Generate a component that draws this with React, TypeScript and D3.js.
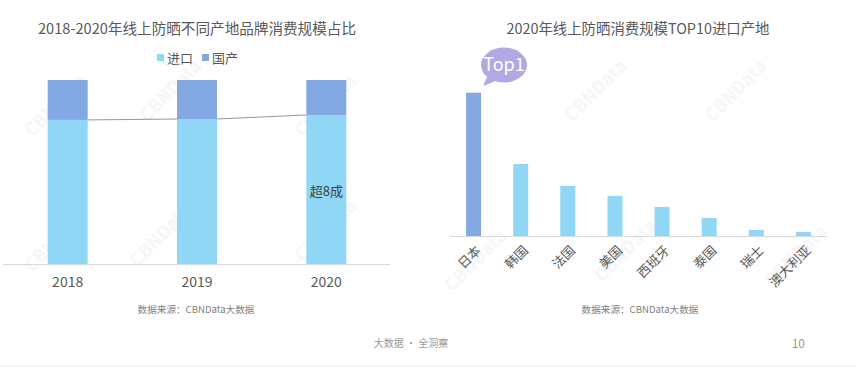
import { useEffect, useRef } from "react";
import * as d3 from "d3";

const years = ["2018", "2019", "2020"];
const importShare = [78.3, 78.8, 81];
const domesticShare = [21.7, 21.2, 19];
const legendLabels = ["进口", "国产"];

const origins = ["日本", "韩国", "法国", "美国", "西班牙", "泰国", "瑞士", "澳大利亚"];
const originValues = [100, 50.2, 35, 28, 20.3, 12.6, 4.2, 2.8];

const COLOR_IMPORT = "#8fd7f4";
const COLOR_DOMESTIC = "#84a9e2";
const TEXT = "#595959";
const FONT = "'Noto Sans CJK SC', 'Noto Sans', sans-serif";

const watermarks = [
  [60, 110], [175, 95], [330, 110], [60, 245], [165, 240], [330, 235],
  [480, 265], [600, 95], [740, 95], [630, 255], [800, 260],
];

export default function App() {
  const ref = useRef<SVGSVGElement>(null);

  useEffect(() => {
    const svg = d3.select(ref.current);
    svg.selectAll("*").remove();

    // faint watermark
    svg
      .append("g")
      .selectAll("text")
      .data(watermarks)
      .join("text")
      .attr("transform", (d) => `translate(${d[0]},${d[1]}) rotate(-45)`)
      .attr("text-anchor", "middle")
      .attr("font-family", FONT)
      .attr("font-size", 18)
      .attr("font-weight", "bold")
      .attr("fill", "#f6f6f8")
      .text("CBNData");

    // ---- left chart ----
    const left = svg.append("g");
    left
      .append("text")
      .attr("x", 197)
      .attr("y", 34)
      .attr("text-anchor", "middle")
      .attr("font-family", FONT)
      .attr("font-size", 14.6)
      .attr("fill", TEXT)
      .text("2018-2020年线上防晒不同产地品牌消费规模占比");

    const legend = left
      .selectAll("g.legend")
      .data(legendLabels)
      .join("g")
      .attr("transform", (_, i) => `translate(${157 + i * 45},58)`);
    legend
      .append("rect")
      .attr("x", 0)
      .attr("y", -4)
      .attr("width", 7)
      .attr("height", 7)
      .attr("fill", (_, i) => (i === 0 ? COLOR_IMPORT : COLOR_DOMESTIC));
    legend
      .append("text")
      .attr("x", 10)
      .attr("y", 0)
      .attr("dy", "0.35em")
      .attr("font-family", FONT)
      .attr("font-size", 13)
      .attr("fill", TEXT)
      .text((d) => d);

    const xL = d3.scalePoint<string>().domain(years).range([3, 391]).padding(0.5);
    const yL = d3.scaleLinear().domain([0, 100]).range([264, 80]);
    const bw = 40;

    left
      .selectAll("rect.imp")
      .data(years)
      .join("rect")
      .attr("x", (d) => xL(d)! - bw / 2)
      .attr("y", (_, i) => yL(importShare[i]))
      .attr("width", bw)
      .attr("height", (_, i) => yL(0) - yL(importShare[i]))
      .attr("fill", COLOR_IMPORT);
    left
      .selectAll("rect.dom")
      .data(years)
      .join("rect")
      .attr("x", (d) => xL(d)! - bw / 2)
      .attr("y", (_, i) => yL(importShare[i] + domesticShare[i]))
      .attr("width", bw)
      .attr("height", (_, i) => yL(importShare[i]) - yL(importShare[i] + domesticShare[i]))
      .attr("fill", COLOR_DOMESTIC);

    // series lines between bars
    for (let i = 0; i < years.length - 1; i++) {
      left
        .append("line")
        .attr("x1", xL(years[i])! + bw / 2)
        .attr("y1", yL(importShare[i]))
        .attr("x2", xL(years[i + 1])! - bw / 2)
        .attr("y2", yL(importShare[i + 1]))
        .attr("stroke", "#7a7a7a")
        .attr("stroke-width", 0.8);
    }

    left
      .append("line")
      .attr("x1", 3)
      .attr("x2", 390)
      .attr("y1", yL(0) + 0.5)
      .attr("y2", yL(0) + 0.5)
      .attr("stroke", "#d9d9d9");

    left
      .selectAll("text.year")
      .data(years)
      .join("text")
      .attr("x", (d) => xL(d)!)
      .attr("y", 287)
      .attr("text-anchor", "middle")
      .attr("font-family", FONT)
      .attr("font-size", 14)
      .attr("fill", TEXT)
      .text((d) => d);

    left
      .append("text")
      .attr("x", xL("2020")!)
      .attr("y", 191)
      .attr("dy", "0.35em")
      .attr("text-anchor", "middle")
      .attr("font-family", FONT)
      .attr("font-size", 13)
      .attr("fill", "#404040")
      .text("超8成");

    left
      .append("text")
      .attr("x", 196)
      .attr("y", 313)
      .attr("text-anchor", "middle")
      .attr("font-family", FONT)
      .attr("font-size", 9.6)
      .attr("fill", "#7f7f7f")
      .text("数据来源：CBNData大数据");

    // ---- right chart ----
    const right = svg.append("g");
    right
      .append("text")
      .attr("x", 638)
      .attr("y", 34)
      .attr("text-anchor", "middle")
      .attr("font-family", FONT)
      .attr("font-size", 14.4)
      .attr("fill", TEXT)
      .text("2020年线上防晒消费规模TOP10进口产地");

    const xR = d3.scalePoint<string>().domain(origins).range([450, 827]).padding(0.5);
    const yR = d3.scaleLinear().domain([0, 100]).range([236, 92.7]);
    const bw2 = 15;

    right
      .selectAll("rect")
      .data(origins)
      .join("rect")
      .attr("x", (d) => xR(d)! - bw2 / 2)
      .attr("y", (_, i) => yR(originValues[i]))
      .attr("width", bw2)
      .attr("height", (_, i) => yR(0) - yR(originValues[i]))
      .attr("fill", (_, i) => (i === 0 ? COLOR_DOMESTIC : COLOR_IMPORT));

    right
      .append("line")
      .attr("x1", 450)
      .attr("x2", 827)
      .attr("y1", yR(0) + 0.5)
      .attr("y2", yR(0) + 0.5)
      .attr("stroke", "#d9d9d9");

    right
      .selectAll("text.cat")
      .data(origins)
      .join("text")
      .attr("transform", (d) => `translate(${xR(d)! + 5},${yR(0) + 12}) rotate(-45)`)
      .attr("text-anchor", "end")
      .attr("dy", "0.35em")
      .attr("font-family", FONT)
      .attr("font-size", 13)
      .attr("fill", TEXT)
      .text((d) => d);

    // Top1 bubble
    const bx = 504;
    const by = 65;
    const bubble = right.append("g");
    bubble
      .append("path")
      .attr("d", `M${bx - 16},${by + 10} L${bx - 21},${by + 21} L${bx - 6},${by + 15} Z`)
      .attr("fill", "#b3a8e6");
    bubble
      .append("ellipse")
      .attr("cx", bx)
      .attr("cy", by)
      .attr("rx", 23)
      .attr("ry", 17.5)
      .attr("fill", "#b3a8e6");
    bubble
      .append("text")
      .attr("x", bx)
      .attr("y", by)
      .attr("dy", "0.36em")
      .attr("text-anchor", "middle")
      .attr("font-family", FONT)
      .attr("font-size", 18)
      .attr("fill", "#ffffff")
      .text("Top1");

    right
      .append("text")
      .attr("x", 640)
      .attr("y", 313)
      .attr("text-anchor", "middle")
      .attr("font-family", FONT)
      .attr("font-size", 9.6)
      .attr("fill", "#7f7f7f")
      .text("数据来源：CBNData大数据");

    // footer
    svg
      .append("text")
      .attr("x", 411)
      .attr("y", 347)
      .attr("text-anchor", "middle")
      .attr("font-family", FONT)
      .attr("font-size", 10)
      .attr("fill", "#9a9a9a")
      .text("大数据 · 全洞察");
    svg
      .append("text")
      .attr("x", 805)
      .attr("y", 348)
      .attr("text-anchor", "end")
      .attr("font-family", FONT)
      .attr("font-size", 12)
      .attr("fill", "#9a9a9a")
      .text("10");
    svg
      .append("line")
      .attr("x1", 0)
      .attr("x2", 856)
      .attr("y1", 366)
      .attr("y2", 366)
      .attr("stroke", "#ececec");
  }, []);

  return (
    <svg
      ref={ref}
      width={856}
      height={367}
      style={{ position: "absolute", left: 0, top: 0, background: "#ffffff" }}
    />
  );
}
